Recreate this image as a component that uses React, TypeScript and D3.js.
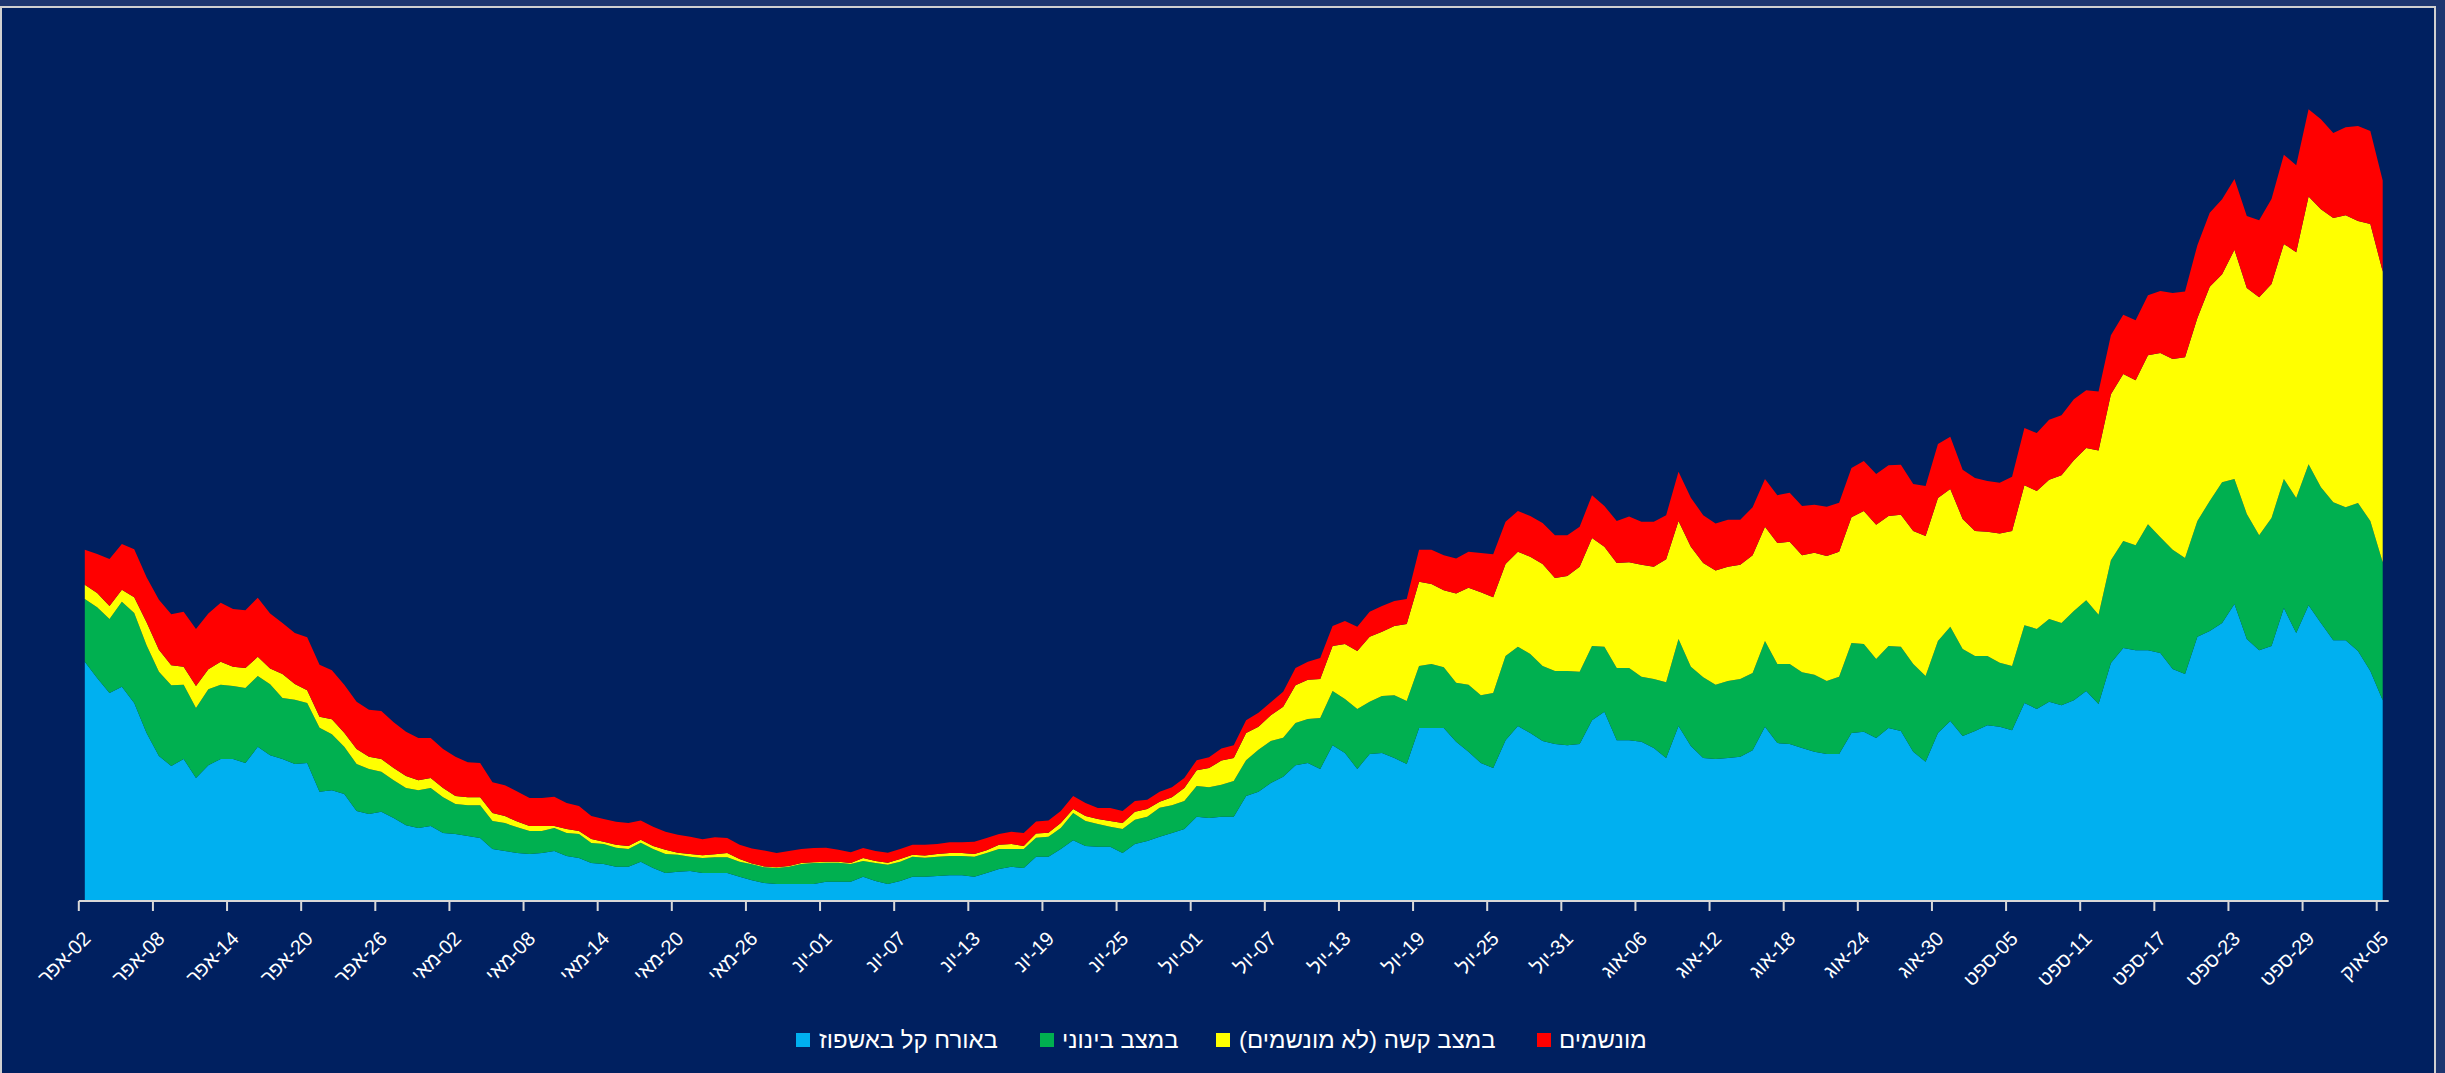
import React from 'react';
import * as d3 from 'd3';

const W = 2445;
const H = 1073;

const startDate = new Date(2020, 3, 2);

const tickLabels = ["02-אפר","08-אפר","14-אפר","20-אפר","26-אפר","02-מאי","08-מאי","14-מאי","20-מאי","26-מאי","01-יונ","07-יונ","13-יונ","19-יונ","25-יונ","01-יול","07-יול","13-יול","19-יול","25-יול","31-יול","06-אוג","12-אוג","18-אוג","24-אוג","30-אוג","05-ספט","11-ספט","17-ספט","23-ספט","29-ספט","05-אוק"];

const seriesNames = ["באורח קל באשפוז", "במצב בינוני", "במצב קשה (לא מונשמים)", "מונשמים"];
const seriesColors = ["#00B0F0", "#00B050", "#FFFF00", "#FF0000"];

const mild = [
574,535,499,514,475,403,348,324,341,295,
326,341,341,331,370,350,341,329,331,262,
266,257,216,209,214,199,182,175,180,163,
161,156,151,125,120,115,113,115,120,108,
103,91,89,82,82,94,79,67,70,72,
67,67,67,58,50,43,41,41,41,41,
46,46,46,58,48,41,48,58,58,60,
62,62,58,67,77,82,79,106,106,125,
146,132,130,130,115,137,144,154,163,173,
202,199,202,202,252,262,283,298,326,331,
317,374,355,317,353,355,343,329,415,415,
415,382,358,331,319,386,420,403,384,377,
374,377,434,454,386,386,382,367,343,420,
372,343,341,343,346,362,418,379,377,367,
358,353,353,403,406,391,415,408,358,334,
403,432,396,408,422,418,410,475,461,478,
470,482,504,473,571,607,602,602,595,557,
545,634,648,667,713,629,602,612,703,643,
710,667,626,626,600,552,482];

const moderate = [
151,170,178,204,216,211,202,194,178,168,
182,178,175,180,170,170,146,154,144,154,
134,113,113,108,96,91,89,91,91,86,
72,74,79,67,67,62,55,53,55,55,
58,48,48,46,43,46,46,46,41,34,
36,38,38,36,38,38,38,41,48,50,
46,46,43,38,43,46,46,48,46,46,
46,46,48,48,48,43,46,46,48,50,
65,60,55,48,58,58,58,70,67,67,
74,74,77,86,86,101,101,94,101,106,
122,130,130,144,125,137,151,151,149,154,
146,142,161,163,180,202,190,190,180,175,
178,173,178,156,173,173,156,166,182,209,
190,194,178,185,187,185,206,190,192,182,
185,175,185,216,211,190,197,202,211,206,
221,226,209,180,166,154,154,187,192,199,
197,214,218,214,247,257,252,302,278,286,
278,278,312,338,300,300,276,307,310,324,
338,326,331,319,355,360,331];

const severe = [
34,34,31,29,38,55,53,48,43,53,
48,55,46,48,46,38,58,38,31,26,
36,34,36,29,31,29,29,24,24,22,
19,19,19,19,17,14,12,12,5,10,
7,10,5,7,7,7,7,10,5,7,
7,7,10,7,2,2,2,2,2,2,
2,2,2,7,5,5,7,5,5,7,
7,7,7,7,10,12,7,10,10,12,
10,12,12,14,14,19,19,14,19,31,
38,46,58,55,65,55,62,74,91,94,
94,108,132,139,156,154,166,185,202,192,
185,214,233,247,230,221,228,233,245,223,
228,252,259,240,252,254,269,269,295,283,
288,274,274,274,274,283,274,290,293,281,
293,300,300,302,319,322,312,317,319,336,
343,331,312,300,298,310,324,336,331,334,
355,362,365,394,398,401,396,406,442,458,
482,487,514,499,550,542,571,562,564,590,
643,667,682,701,677,713,698];

const ventilated = [
84,94,113,110,115,108,120,122,132,137,
134,142,139,139,142,132,122,122,127,125,
118,115,113,113,115,110,106,101,96,94,
94,84,82,74,74,72,67,67,70,62,
60,55,55,55,55,46,46,43,43,41,
38,41,36,34,36,38,34,36,34,34,
34,29,26,24,24,24,24,24,26,24,
26,26,29,29,26,29,31,29,29,29,
31,31,26,31,29,26,22,24,24,24,
24,26,29,31,31,34,31,36,41,43,
50,48,55,58,60,62,60,60,77,82,
84,84,86,94,103,101,98,98,98,103,
98,96,103,98,101,110,103,108,106,118,
118,115,113,113,108,115,115,115,118,118,
115,118,118,118,120,122,122,120,113,120,
130,125,118,127,122,122,130,137,139,144,
144,146,139,142,142,142,144,144,149,158,
158,175,178,180,170,173,185,204,214,209,
209,216,204,211,228,223,218];

const RLM = "\u200F";

export default function App() {
  const n = mild.length;
  const dates = d3.range(n).map((i) => d3.timeDay.offset(startDate, i));
  const rows = dates.map((d, i) => ({
    date: d,
    s0: mild[i],
    s1: moderate[i],
    s2: severe[i],
    s3: ventilated[i],
  }));
  const keys = ["s0", "s1", "s2", "s3"];
  const stacked = d3.stack<any>().keys(keys)(rows);

  const x = d3.scaleTime().domain([dates[0], dates[n - 1]]).range([84.8, 2382.7]);
  const y = d3.scaleLinear().domain([0, 2000]).range([901, 901 - 2000 / 2.4]);

  const area = d3
    .area<any>()
    .x((d) => x(d.data.date))
    .y0((d) => y(d[0]))
    .y1((d) => y(d[1]));

  const tickOffset = -6;
  const tickDates = tickLabels.map((_, k) => d3.timeDay.offset(startDate, k * 6));
  const axisY = 901;
  const font = "'Liberation Sans', Arial, 'DejaVu Sans', sans-serif";

  const legendSquares = [796, 1040, 1216, 1537];
  const legendTexts = [819, 1062, 1239, 1559];

  return (
    <svg
      width={W}
      height={H}
      style={{ position: "absolute", left: 0, top: 0, display: "block" }}
    >
      <rect x={0} y={0} width={W} height={H} fill="#1d3670" />
      <rect x={1} y={7} width={2434} height={1100} fill="#002060" stroke="#d0d0d0" strokeWidth={2} />
      <g>
        {stacked.map((s, k) => (
          <path key={k} d={area(s) || ""} fill={seriesColors[k]} stroke="none" />
        ))}
      </g>
      <line
        x1={x(dates[0]) + tickOffset}
        x2={x(dates[n - 1]) - tickOffset}
        y1={axisY}
        y2={axisY}
        stroke="#d9d9d9"
        strokeWidth={2}
      />
      {tickDates.map((d, k) => {
        const tx = x(d) + tickOffset;
        return (
          <g key={k}>
            <line x1={tx} x2={tx} y1={axisY} y2={axisY + 10} stroke="#d9d9d9" strokeWidth={2} />
            <text
              transform={`translate(${tx + 13},${axisY + 39}) rotate(-45)`}
              textAnchor="end"
              fill="#ffffff"
              fontSize={20}
              fontFamily={font}
            >
              {RLM + tickLabels[k]}
            </text>
          </g>
        );
      })}
      {seriesNames.map((name, k) => (
        <g key={k}>
          <rect x={legendSquares[k]} y={1033} width={14} height={14} fill={seriesColors[k]} />
          <text x={legendTexts[k]} y={1048} fill="#ffffff" fontSize={24} fontFamily={font}>
            {RLM + name + RLM}
          </text>
        </g>
      ))}
    </svg>
  );
}
